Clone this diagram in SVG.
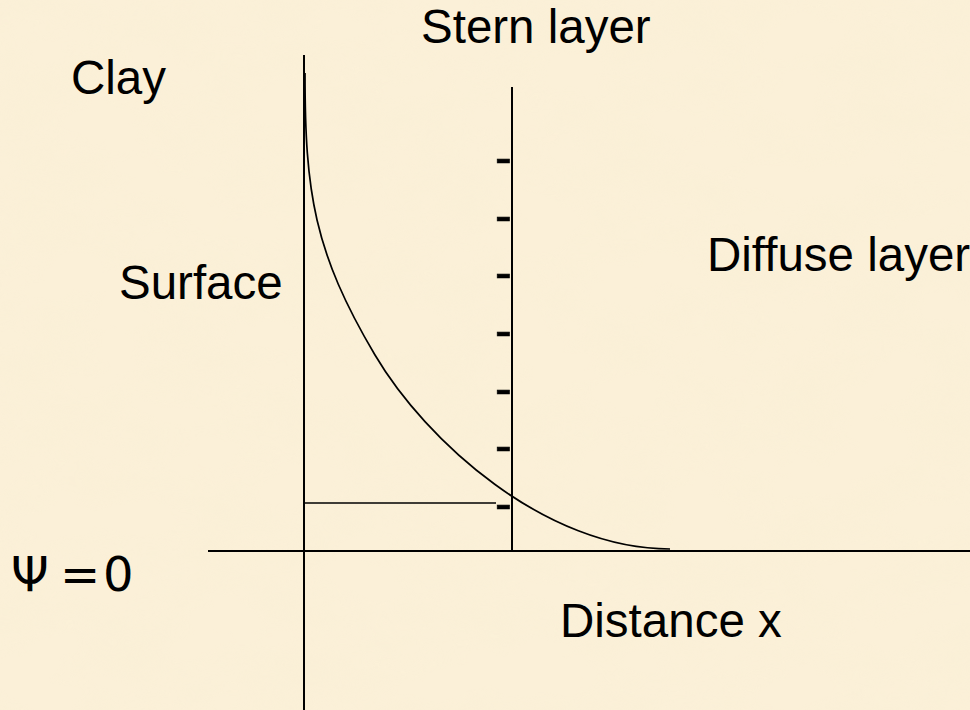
<svg xmlns="http://www.w3.org/2000/svg" width="970" height="710" viewBox="0 0 970 710">
  <style>
    .lbl { font-family: "Liberation Sans", Arial, sans-serif; font-size: 47.5px; fill: #000; }
    .dash { font-family: "Liberation Sans", Arial, sans-serif; font-size: 50px; fill: #000; stroke: #000; stroke-width: 0.7; }
    .sym { font-family: "DejaVu Sans", sans-serif; font-size: 48px; fill: #000; }
    .ax { stroke: #000; stroke-width: 2; fill: none; }
    .thin { stroke: #000; stroke-width: 1.7; fill: none; }
  </style>
  <defs>
    <filter id="tex" x="0" y="0" width="100%" height="100%" filterUnits="userSpaceOnUse">
      <feTurbulence type="fractalNoise" baseFrequency="0.012 0.02" numOctaves="3" seed="7" result="n"/>
      <feColorMatrix in="n" type="matrix" values="0 0 0 0 0.94  0 0 0 0 0.86  0 0 0 0 0.66  1.1 0 0 0 -0.42"/>
    </filter>
  </defs>
  <rect width="970" height="710" fill="#FBF0D8"/>
  <rect width="970" height="710" filter="url(#tex)" opacity="0.6"/>

  <g id="connectors">
    <line id="surface-axis" class="ax" x1="304" y1="55" x2="304" y2="710"/>
    <line id="stern-line" class="ax" x1="512" y1="87" x2="512" y2="551"/>
    <line id="distance-axis" class="ax" x1="208" y1="551" x2="970" y2="551"/>
    <line id="stern-potential" class="thin" x1="304" y1="503" x2="496" y2="503"/>
    <path id="potential-curve" class="thin" d="M305,73 C305,193 313.9,251.7 375,355 C425.9,441.1 545,549 670,549"/>
  </g>

  <g id="charges">
    <text class="dash" x="495" y="174">-</text>
    <text class="dash" x="495" y="231.5">-</text>
    <text class="dash" x="495" y="289">-</text>
    <text class="dash" x="495" y="347">-</text>
    <text class="dash" x="495" y="404.5">-</text>
    <text class="dash" x="495" y="462">-</text>
    <text class="dash" x="495" y="520">-</text>
  </g>

  <g id="label-stern"><text class="lbl" x="421" y="43">Stern layer</text></g>
  <g id="label-clay"><text class="lbl" x="71" y="94">Clay</text></g>
  <g id="label-surface"><text class="lbl" x="119" y="299">Surface</text></g>
  <g id="label-diffuse"><text class="lbl" x="707" y="271">Diffuse layer</text></g>
  <g id="label-distance"><text class="lbl" x="560" y="637">Distance x</text></g>
  <g id="label-psi"><text class="sym" x="11" y="591">Ψ<tspan x="60">=</tspan><tspan x="103">0</tspan></text></g>
</svg>
